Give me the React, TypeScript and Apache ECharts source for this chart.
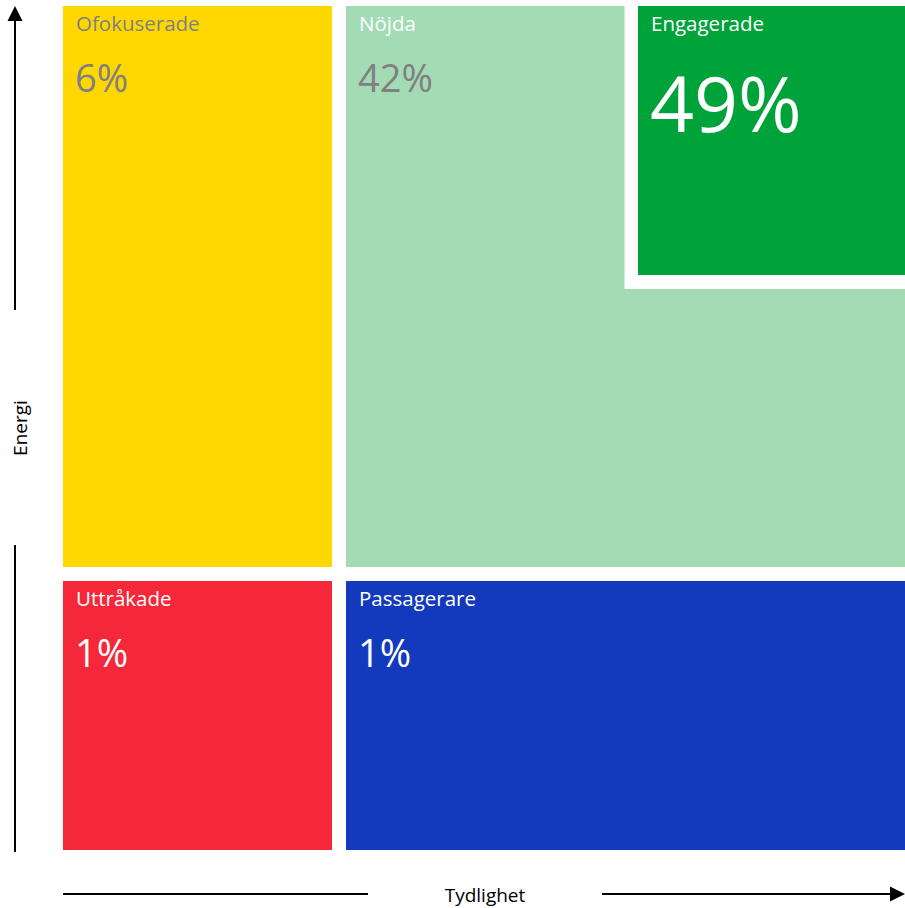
import React, { useEffect, useRef } from "react";
import * as echarts from "echarts";

// Segment names and shares (%)
const segments = ["Ofokuserade", "Nöjda", "Engagerade", "Uttråkade", "Passagerare"];
const shares = [6, 42, 49, 1, 1];
const colors = ["#FFD700", "#A2DBB4", "#00A23A", "#F5283A", "#133ABD"];
const labelColors = ["#808080", "#FFFFFF", "#FFFFFF", "#FFFFFF", "#FFFFFF"];
const valueColors = ["#808080", "#808080", "#FFFFFF", "#FFFFFF", "#FFFFFF"];

// Cell extents in axis units (0..100 on both axes)
const cellX0 = [0, 33.61, 68.29, 0, 33.61];
const cellX1 = [31.95, 100, 100, 31.95, 100];
const cellY0 = [33.53, 33.53, 68.13, 0, 0];
const cellY1 = [100, 100, 100, 31.87, 31.87];
const bigValue = [false, false, true, false, false];
const framed = [false, false, true, false, false];

const FONT = "'Open Sans', 'Noto Sans', sans-serif";

export default function App() {
  const ref = useRef<HTMLDivElement>(null);
  useEffect(() => {
    if (!ref.current) return;
    const chart = echarts.init(ref.current, undefined, { renderer: "svg" });
    const data = segments.map((s, i) => [cellX0[i], cellX1[i], cellY0[i], cellY1[i], i]);
    chart.setOption({
      animation: false,
      grid: { left: 63, right: 0, top: 6, bottom: 58 },
      xAxis: { type: "value", min: 0, max: 100, show: false },
      yAxis: { type: "value", min: 0, max: 100, show: false },
      series: [
        {
          type: "custom",
          silent: true,
          data,
          encode: { x: [0, 1], y: [2, 3] },
          renderItem: (params: any, api: any) => {
            const i = api.value(4);
            const tl = api.coord([api.value(0), api.value(3)]);
            const br = api.coord([api.value(1), api.value(2)]);
            const x = tl[0];
            const y = tl[1];
            const w = br[0] - tl[0];
            const h = br[1] - tl[1];
            const children: any[] = [];
            if (framed[i]) {
              children.push({
                type: "rect",
                shape: { x: x - 13.5, y: y, width: w + 13.5, height: h + 14 },
                style: { fill: "#FFFFFF" },
              });
            }
            children.push({
              type: "rect",
              shape: { x, y, width: w, height: h },
              style: { fill: colors[i] },
            });
            children.push({
              type: "text",
              style: {
                text: segments[i],
                x: x + 13,
                y: y + 16.5,
                fill: labelColors[i],
                font: `20.5px ${FONT}`,
                align: "left",
                verticalAlign: "middle",
              },
            });
            children.push({
              type: "text",
              style: {
                text: shares[i] + "%",
                x: x + 12,
                y: y + (bigValue[i] ? 96 : 70.5),
                fill: valueColors[i],
                font: `${bigValue[i] ? 77 : 38}px ${FONT}`,
                align: "left",
                verticalAlign: "middle",
              },
            });
            return { type: "group", children };
          },
        },
      ],
      graphic: [
        { type: "line", shape: { x1: 15, y1: 310, x2: 15, y2: 18 }, style: { stroke: "#000", lineWidth: 2 } },
        { type: "polygon", shape: { points: [[15, 6], [7.5, 21], [22.5, 21]] }, style: { fill: "#000" } },
        { type: "line", shape: { x1: 15, y1: 545, x2: 15, y2: 852 }, style: { stroke: "#000", lineWidth: 2 } },
        {
          type: "text",
          x: 20,
          y: 428,
          rotation: Math.PI / 2,
          style: { text: "Energi", font: `19px ${FONT}`, fill: "#000", align: "center", verticalAlign: "middle" },
        },
        { type: "line", shape: { x1: 63, y1: 894, x2: 368, y2: 894 }, style: { stroke: "#000", lineWidth: 2 } },
        { type: "line", shape: { x1: 602, y1: 894, x2: 893, y2: 894 }, style: { stroke: "#000", lineWidth: 2 } },
        { type: "polygon", shape: { points: [[905, 894], [890, 886.5], [890, 901.5]] }, style: { fill: "#000" } },
        {
          type: "text",
          x: 485,
          y: 895,
          style: { text: "Tydlighet", font: `19px ${FONT}`, fill: "#000", align: "center", verticalAlign: "middle" },
        },
      ],
    });
    return () => chart.dispose();
  }, []);
  return <div ref={ref} style={{ width: 905, height: 908, position: "absolute", left: 0, top: 0 }} />;
}
